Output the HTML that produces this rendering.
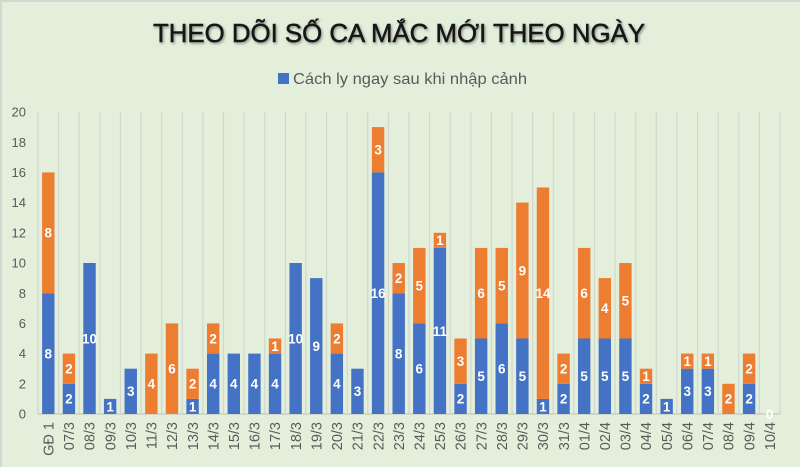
<!DOCTYPE html>
<html>
<head>
<meta charset="utf-8">
<style>
  html,body{margin:0;padding:0;}
  body{width:800px;height:467px;overflow:hidden;background:#e3efdb;}
  svg{display:block;}
</style>
</head>
<body>
<svg width="800" height="467" viewBox="0 0 800 467" xmlns="http://www.w3.org/2000/svg">
  <defs>
    <filter id="sh" x="-5%" y="-30%" width="110%" height="160%">
      <feDropShadow dx="1.2" dy="1.5" stdDeviation="1.2" flood-color="#444" flood-opacity="0.55"/>
    </filter>
  </defs>
  <rect x="0" y="0" width="800" height="467" fill="#e3efdb"/>
  <rect x="0" y="0" width="800" height="2" fill="#d4d6d2"/>
  <rect x="0" y="0" width="2" height="467" fill="#d4d6d2"/>

  <!-- Title -->
  <text x="399" y="42" text-anchor="middle" textLength="492" lengthAdjust="spacingAndGlyphs"
        font-family="Liberation Sans, DejaVu Sans, sans-serif" font-size="26" fill="#141414"
        stroke="#141414" stroke-width="0.5" filter="url(#sh)">THEO DÕI SỐ CA MẮC MỚI THEO NGÀY</text>

  <!-- Legend -->
  <rect x="278" y="73" width="11" height="11" fill="#4472c4"/>
  <text x="293" y="84" textLength="234" lengthAdjust="spacingAndGlyphs"
        font-family="Liberation Sans, DejaVu Sans, sans-serif" font-size="16" fill="#595959">Cách ly ngay sau khi nhập cảnh</text>

  <!-- Vertical gridlines -->
  <path fill="none" stroke="#d2d7ce" stroke-width="1.2" d="
    M38 112V414 M58.61 112V414 M79.22 112V414 M99.83 112V414 M120.44 112V414 M141.06 112V414
    M161.67 112V414 M182.28 112V414 M202.89 112V414 M223.5 112V414 M244.11 112V414 M264.72 112V414
    M285.33 112V414 M305.94 112V414 M326.55 112V414 M347.17 112V414 M367.78 112V414 M388.39 112V414
    M409 112V414 M429.61 112V414 M450.22 112V414 M470.83 112V414 M491.44 112V414 M512.06 112V414
    M532.67 112V414 M553.28 112V414 M573.89 112V414 M594.5 112V414 M615.11 112V414 M635.72 112V414
    M656.33 112V414 M676.94 112V414 M697.56 112V414 M718.17 112V414 M738.78 112V414 M759.39 112V414
    M780 112V414"/>
  <line x1="38" y1="414" x2="780" y2="414" stroke="#c4c8c0" stroke-width="1.2"/>

  <!-- Y axis labels -->
  <g font-family="Liberation Sans, DejaVu Sans, sans-serif" font-size="13" fill="#595959" text-anchor="end">
    <text x="26" y="418.6">0</text>
    <text x="26" y="388.4">2</text>
    <text x="26" y="358.2">4</text>
    <text x="26" y="328">6</text>
    <text x="26" y="297.8">8</text>
    <text x="26" y="267.6">10</text>
    <text x="26" y="237.4">12</text>
    <text x="26" y="207.2">14</text>
    <text x="26" y="177">16</text>
    <text x="26" y="146.8">18</text>
    <text x="26" y="116.6">20</text>
  </g>

  <!-- Bars -->
  <g>
    <!-- blue -->
    <g fill="#4472c4">
      <rect x="42.11" y="293.2" width="12.4" height="120.8"/>
      <rect x="62.72" y="383.8" width="12.4" height="30.2"/>
      <rect x="83.33" y="263" width="12.4" height="151"/>
      <rect x="103.94" y="398.9" width="12.4" height="15.1"/>
      <rect x="124.55" y="368.7" width="12.4" height="45.3"/>
      <rect x="186.38" y="398.9" width="12.4" height="15.1"/>
      <rect x="206.99" y="353.6" width="12.4" height="60.4"/>
      <rect x="227.61" y="353.6" width="12.4" height="60.4"/>
      <rect x="248.22" y="353.6" width="12.4" height="60.4"/>
      <rect x="268.83" y="353.6" width="12.4" height="60.4"/>
      <rect x="289.44" y="263" width="12.4" height="151"/>
      <rect x="310.05" y="278.1" width="12.4" height="135.9"/>
      <rect x="330.66" y="353.6" width="12.4" height="60.4"/>
      <rect x="351.27" y="368.7" width="12.4" height="45.3"/>
      <rect x="371.88" y="172.4" width="12.4" height="241.6"/>
      <rect x="392.49" y="293.2" width="12.4" height="120.8"/>
      <rect x="413.11" y="323.4" width="12.4" height="90.6"/>
      <rect x="433.72" y="247.9" width="12.4" height="166.1"/>
      <rect x="454.33" y="383.8" width="12.4" height="30.2"/>
      <rect x="474.94" y="338.5" width="12.4" height="75.5"/>
      <rect x="495.55" y="323.4" width="12.4" height="90.6"/>
      <rect x="516.16" y="338.5" width="12.4" height="75.5"/>
      <rect x="536.77" y="398.9" width="12.4" height="15.1"/>
      <rect x="557.38" y="383.8" width="12.4" height="30.2"/>
      <rect x="577.99" y="338.5" width="12.4" height="75.5"/>
      <rect x="598.61" y="338.5" width="12.4" height="75.5"/>
      <rect x="619.22" y="338.5" width="12.4" height="75.5"/>
      <rect x="639.83" y="383.8" width="12.4" height="30.2"/>
      <rect x="660.44" y="398.9" width="12.4" height="15.1"/>
      <rect x="681.05" y="368.7" width="12.4" height="45.3"/>
      <rect x="701.66" y="368.7" width="12.4" height="45.3"/>
      <rect x="742.88" y="383.8" width="12.4" height="30.2"/>
    </g>
    <!-- orange -->
    <g fill="#ed7d31">
      <rect x="42.11" y="172.4" width="12.4" height="120.8"/>
      <rect x="62.72" y="353.6" width="12.4" height="30.2"/>
      <rect x="145.16" y="353.6" width="12.4" height="60.4"/>
      <rect x="165.77" y="323.4" width="12.4" height="90.6"/>
      <rect x="186.38" y="368.7" width="12.4" height="30.2"/>
      <rect x="206.99" y="323.4" width="12.4" height="30.2"/>
      <rect x="268.83" y="338.5" width="12.4" height="15.1"/>
      <rect x="330.66" y="323.4" width="12.4" height="30.2"/>
      <rect x="371.88" y="127.1" width="12.4" height="45.3"/>
      <rect x="392.49" y="263" width="12.4" height="30.2"/>
      <rect x="413.11" y="247.9" width="12.4" height="75.5"/>
      <rect x="433.72" y="232.8" width="12.4" height="15.1"/>
      <rect x="454.33" y="338.5" width="12.4" height="45.3"/>
      <rect x="474.94" y="247.9" width="12.4" height="90.6"/>
      <rect x="495.55" y="247.9" width="12.4" height="75.5"/>
      <rect x="516.16" y="202.6" width="12.4" height="135.9"/>
      <rect x="536.77" y="187.5" width="12.4" height="211.4"/>
      <rect x="557.38" y="353.6" width="12.4" height="30.2"/>
      <rect x="577.99" y="247.9" width="12.4" height="90.6"/>
      <rect x="598.61" y="278.1" width="12.4" height="60.4"/>
      <rect x="619.22" y="263" width="12.4" height="75.5"/>
      <rect x="639.83" y="368.7" width="12.4" height="15.1"/>
      <rect x="681.05" y="353.6" width="12.4" height="15.1"/>
      <rect x="701.66" y="353.6" width="12.4" height="15.1"/>
      <rect x="722.27" y="383.8" width="12.4" height="30.2"/>
      <rect x="742.88" y="353.6" width="12.4" height="30.2"/>
    </g>
  </g>

  <!-- Data labels -->
  <g font-family="Liberation Sans, DejaVu Sans, sans-serif" font-size="13.5" font-weight="bold" fill="#ffffff" text-anchor="middle">
    <!-- blue -->
    <text x="48.31" y="358.4">8</text>
    <text x="68.92" y="403.7">2</text>
    <text x="89.53" y="343.3">10</text>
    <text x="110.14" y="411.25">1</text>
    <text x="130.75" y="396.15">3</text>
    <text x="192.58" y="411.25">1</text>
    <text x="213.19" y="388.6">4</text>
    <text x="233.81" y="388.6">4</text>
    <text x="254.42" y="388.6">4</text>
    <text x="275.03" y="388.6">4</text>
    <text x="295.64" y="343.3">10</text>
    <text x="316.25" y="350.85">9</text>
    <text x="336.86" y="388.6">4</text>
    <text x="357.47" y="396.15">3</text>
    <text x="378.08" y="298">16</text>
    <text x="398.69" y="358.4">8</text>
    <text x="419.31" y="373.5">6</text>
    <text x="439.92" y="335.75">11</text>
    <text x="460.53" y="403.7">2</text>
    <text x="481.14" y="381.05">5</text>
    <text x="501.75" y="373.5">6</text>
    <text x="522.36" y="381.05">5</text>
    <text x="542.97" y="411.25">1</text>
    <text x="563.58" y="403.7">2</text>
    <text x="584.19" y="381.05">5</text>
    <text x="604.81" y="381.05">5</text>
    <text x="625.42" y="381.05">5</text>
    <text x="646.03" y="403.7">2</text>
    <text x="666.64" y="411.25">1</text>
    <text x="687.25" y="396.15">3</text>
    <text x="707.86" y="396.15">3</text>
    <text x="749.08" y="403.7">2</text>
    <text x="769.69" y="418.8">0</text>
    <!-- orange -->
    <text x="48.31" y="237.6">8</text>
    <text x="68.92" y="373.5">2</text>
    <text x="151.36" y="388.6">4</text>
    <text x="171.97" y="373.5">6</text>
    <text x="192.58" y="388.6">2</text>
    <text x="213.19" y="343.3">2</text>
    <text x="275.03" y="350.85">1</text>
    <text x="336.86" y="343.3">2</text>
    <text x="378.08" y="154.55">3</text>
    <text x="398.69" y="282.9">2</text>
    <text x="419.31" y="290.45">5</text>
    <text x="439.92" y="245.15">1</text>
    <text x="460.53" y="365.95">3</text>
    <text x="481.14" y="298">6</text>
    <text x="501.75" y="290.45">5</text>
    <text x="522.36" y="275.35">9</text>
    <text x="542.97" y="298">14</text>
    <text x="563.58" y="373.5">2</text>
    <text x="584.19" y="298">6</text>
    <text x="604.81" y="313.1">4</text>
    <text x="625.42" y="305.55">5</text>
    <text x="646.03" y="381.05">1</text>
    <text x="687.25" y="365.95">1</text>
    <text x="707.86" y="365.95">1</text>
    <text x="728.47" y="403.7">2</text>
    <text x="749.08" y="373.5">2</text>
  </g>

  <!-- X axis labels (rotated) -->
  <g font-family="Liberation Sans, DejaVu Sans, sans-serif" font-size="14.5" fill="#595959" text-anchor="end">
    <text transform="translate(53.5,422) rotate(-90)">GĐ 1</text>
    <text transform="translate(74.1,422) rotate(-90)">07/3</text>
    <text transform="translate(94.7,422) rotate(-90)">08/3</text>
    <text transform="translate(115.3,422) rotate(-90)">09/3</text>
    <text transform="translate(135.9,422) rotate(-90)">10/3</text>
    <text transform="translate(156.5,422) rotate(-90)">11/3</text>
    <text transform="translate(177.2,422) rotate(-90)">12/3</text>
    <text transform="translate(197.8,422) rotate(-90)">13/3</text>
    <text transform="translate(218.4,422) rotate(-90)">14/3</text>
    <text transform="translate(239,422) rotate(-90)">15/3</text>
    <text transform="translate(259.6,422) rotate(-90)">16/3</text>
    <text transform="translate(280.2,422) rotate(-90)">17/3</text>
    <text transform="translate(300.8,422) rotate(-90)">18/3</text>
    <text transform="translate(321.4,422) rotate(-90)">19/3</text>
    <text transform="translate(342.1,422) rotate(-90)">20/3</text>
    <text transform="translate(362.7,422) rotate(-90)">21/3</text>
    <text transform="translate(383.3,422) rotate(-90)">22/3</text>
    <text transform="translate(403.9,422) rotate(-90)">23/3</text>
    <text transform="translate(424.5,422) rotate(-90)">24/3</text>
    <text transform="translate(445.1,422) rotate(-90)">25/3</text>
    <text transform="translate(465.7,422) rotate(-90)">26/3</text>
    <text transform="translate(486.3,422) rotate(-90)">27/3</text>
    <text transform="translate(507,422) rotate(-90)">28/3</text>
    <text transform="translate(527.6,422) rotate(-90)">29/3</text>
    <text transform="translate(548.2,422) rotate(-90)">30/3</text>
    <text transform="translate(568.8,422) rotate(-90)">31/3</text>
    <text transform="translate(589.4,422) rotate(-90)">01/4</text>
    <text transform="translate(610,422) rotate(-90)">02/4</text>
    <text transform="translate(630.6,422) rotate(-90)">03/4</text>
    <text transform="translate(651.2,422) rotate(-90)">04/4</text>
    <text transform="translate(671.8,422) rotate(-90)">05/4</text>
    <text transform="translate(692.5,422) rotate(-90)">06/4</text>
    <text transform="translate(713.1,422) rotate(-90)">07/4</text>
    <text transform="translate(733.7,422) rotate(-90)">08/4</text>
    <text transform="translate(754.3,422) rotate(-90)">09/4</text>
    <text transform="translate(774.9,422) rotate(-90)">10/4</text>
  </g>
</svg>
</body>
</html>
